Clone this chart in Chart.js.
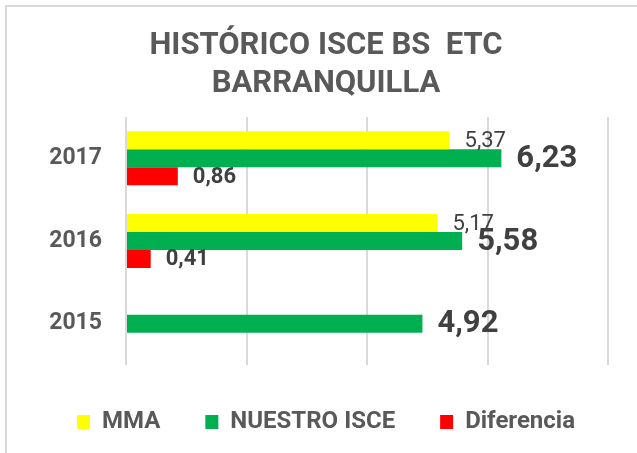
<!DOCTYPE html>
<html><head><meta charset="utf-8">
<script src="https://cdn.jsdelivr.net/npm/chart.js@4/dist/chart.umd.min.js"></script>
<style>
html,body{margin:0;padding:0;width:637px;height:453px;overflow:hidden;background:#fff;}
#frame{position:absolute;left:5px;top:5px;width:700px;height:520px;border-left:2px solid #d9d9d9;border-top:2px solid #d9d9d9;}
#wrap{position:absolute;left:0;top:0;width:638px;height:446px;}
</style></head><body>
<div id="frame"><div id="wrap"><canvas id="c" width="638" height="446"></canvas></div></div>
<script>
// ---- data ----
const years = ['2015', '2016', '2017'];
const seriesNames = ['MMA', 'NUESTRO ISCE', 'Diferencia'];
const mma = [null, 5.17, 5.37];
const nuestroIsce = [4.92, 5.58, 6.23];
const diferencia = [null, 0.41, 0.86];
const xTickValues = [0, 2, 4, 6, 8];
const titleLines = ['HISTÓRICO ISCE BS  ETC', 'BARRANQUILLA'];

// ---- styles ----
const colors = ['#FFFF00', '#00B050', '#FF0000'];
const labelFonts = ['normal 22px Roboto', 'bold 31px Roboto', 'bold 22px Roboto'];
const fmt = v => v.toFixed(2).replace('.', ',');

const valueLabels = {
  id: 'valueLabels',
  afterDatasetsDraw(chart) {
    const ctx = chart.ctx;
    chart.data.datasets.forEach((ds, i) => {
      const meta = chart.getDatasetMeta(i);
      ctx.save();
      ctx.font = labelFonts[i];
      ctx.fillStyle = '#404040';
      ctx.textAlign = 'left';
      ctx.textBaseline = 'middle';
      meta.data.forEach((el, j) => {
        const v = ds.data[j];
        if (v === null || v === undefined) return;
        ctx.fillText(fmt(v), el.x + 15, el.y + 1);
      });
      ctx.restore();
    });
  }
};

new Chart(document.getElementById('c'), {
  type: 'bar',
  data: {
    labels: years,
    datasets: [
      { label: seriesNames[0], data: mma, backgroundColor: colors[0] },
      { label: seriesNames[1], data: nuestroIsce, backgroundColor: colors[1] },
      { label: seriesNames[2], data: diferencia, backgroundColor: colors[2] }
    ]
  },
  options: {
    indexAxis: 'y',
    responsive: false,
    animation: false,
    devicePixelRatio: 1,
    categoryPercentage: 0.653,
    barPercentage: 1,
    layout: { padding: { left: 0, right: 0, top: 0, bottom: 9 } },
    scales: {
      x: {
        min: xTickValues[0],
        max: xTickValues[xTickValues.length - 1],
        afterBuildTicks: (scale) => { scale.ticks = xTickValues.map(v => ({ value: v })); },
        ticks: { display: false },
        grid: { color: '#d9d9d9', lineWidth: 2, drawTicks: false },
        border: { display: false }
      },
      y: {
        reverse: true,
        afterFit: (scale) => { scale.width = 119; },
        ticks: { padding: 24, color: '#595959', font: { family: 'Roboto', size: 23, weight: 'bold' } },
        grid: { display: false, drawTicks: false },
        border: { display: false }
      },
      yRight: {
        type: 'category',
        position: 'right',
        labels: years,
        afterFit: (scale) => { scale.width = 37; },
        ticks: { display: false },
        grid: { display: false, drawTicks: false },
        border: { display: false }
      }
    },
    plugins: {
      title: {
        display: true,
        text: titleLines,
        color: '#595959',
        font: { family: 'Roboto', size: 31, weight: 'bold', lineHeight: 1.226 },
        padding: { top: 20, bottom: 14 }
      },
      legend: {
        position: 'bottom',
        labels: {
          boxWidth: 13, boxHeight: 14, padding: 45,
          color: '#595959',
          font: { family: 'Roboto', size: 24, weight: 'bold' }
        }
      },
      tooltip: { enabled: false }
    }
  },
  plugins: [valueLabels]
});
</script>
</body></html>
